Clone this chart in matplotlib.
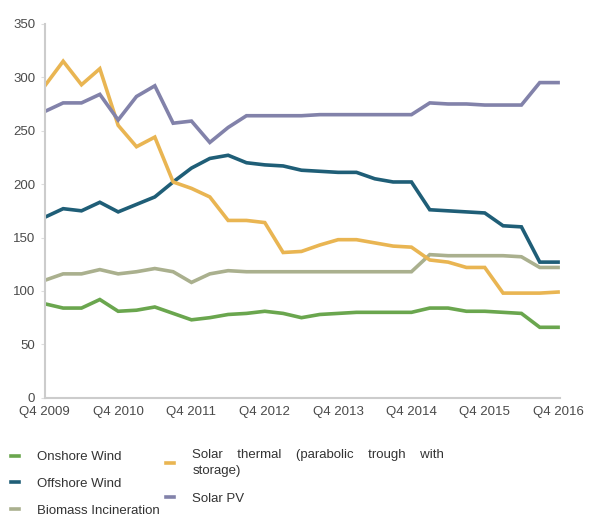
import matplotlib
matplotlib.use("Agg")
import matplotlib.pyplot as plt

plt.rcParams["font.family"] = ["Liberation Sans", "DejaVu Sans"]

# quarterly values, Q4 2009 .. Q4 2016 (29 points)
quarters = list(range(29))
tick_labels = ["Q4 2009", "Q4 2010", "Q4 2011", "Q4 2012",
               "Q4 2013", "Q4 2014", "Q4 2015", "Q4 2016"]

onshore_wind = [88, 84, 84, 92, 81, 82, 85, 79, 73, 75, 78, 79, 81, 79, 75,
                78, 79, 80, 80, 80, 80, 84, 84, 81, 81, 80, 79, 66, 66]
offshore_wind = [169, 177, 175, 183, 174, 181, 188, 202, 215, 224, 227, 220, 218, 217, 213,
                 212, 211, 211, 205, 202, 202, 176, 175, 174, 173, 161, 160, 127, 127]
biomass = [110, 116, 116, 120, 116, 118, 121, 118, 108, 116, 119, 118, 118, 118, 118,
           118, 118, 118, 118, 118, 118, 134, 133, 133, 133, 133, 132, 122, 122]
solar_thermal = [292, 315, 293, 308, 255, 235, 244, 202, 196, 188, 166, 166, 164, 136, 137,
                 143, 148, 148, 145, 142, 141, 129, 127, 122, 122, 98, 98, 98, 99]
solar_pv = [268, 276, 276, 284, 260, 282, 292, 257, 259, 239, 253, 264, 264, 264, 264,
            265, 265, 265, 265, 265, 265, 276, 275, 275, 274, 274, 274, 295, 295]

series = [
    ("Onshore Wind", onshore_wind, "#6aa64e"),
    ("Offshore Wind", offshore_wind, "#1f5e77"),
    ("Biomass Incineration", biomass, "#aab08e"),
    ("Solar    thermal    (parabolic    trough    with\nstorage)", solar_thermal, "#e9b552"),
    ("Solar PV", solar_pv, "#8282aa"),
]

fig = plt.figure(figsize=(5.9, 5.18), dpi=100)
ax = fig.add_axes([0.076, 0.232, 0.873, 0.722])

lines = []
for label, values, color in series:
    ln, = ax.plot(quarters, values, color=color, linewidth=2.6, label=label,
                  solid_joinstyle="miter")
    lines.append(ln)

ax.set_xlim(0, 28.1)
ax.set_ylim(0, 350)
ax.set_yticks(range(0, 351, 50))
ax.set_xticks(range(0, 29, 4))
ax.set_xticklabels(tick_labels)

for side in ["top", "right"]:
    ax.spines[side].set_visible(False)
for side in ["left", "bottom"]:
    ax.spines[side].set_color("#cccccc")
    ax.spines[side].set_linewidth(1.5)

ax.tick_params(axis="x", length=0, pad=6, labelsize=9.5, labelcolor="#4a4a4a")
ax.tick_params(axis="y", length=3, color="#dddddd", pad=4, labelsize=9.5, labelcolor="#4a4a4a")

# legend: two blocks placed separately
leg_kw = dict(loc="upper left", frameon=False, handlelength=0.6, handletextpad=1.4,
              fontsize=9.5, labelcolor="#333333", borderpad=0)
leg1 = fig.legend(handles=lines[:3], bbox_to_anchor=(0.007, 0.142), labelspacing=1.1, **leg_kw)
leg2 = fig.legend(handles=lines[3:], bbox_to_anchor=(0.270, 0.145), labelspacing=1.2, **leg_kw)
for t in leg2.get_texts():
    t.set_linespacing(1.35)

plt.savefig("out.png", dpi=100)
plt.close()
